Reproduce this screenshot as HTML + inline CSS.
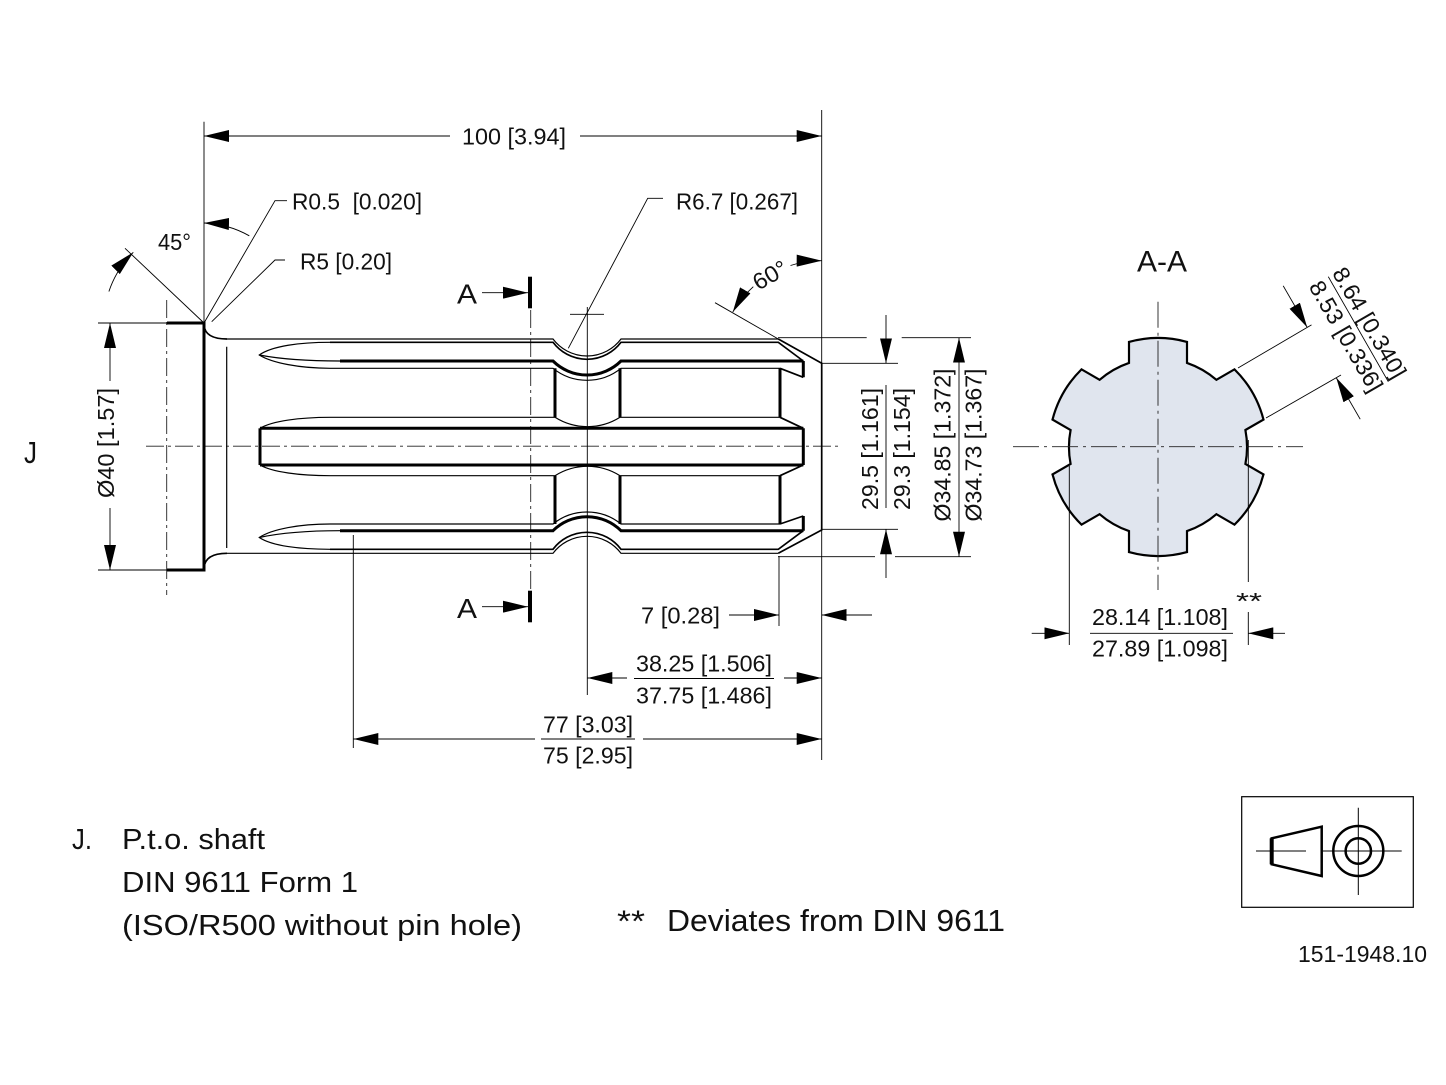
<!DOCTYPE html>
<html>
<head>
<meta charset="utf-8">
<style>
html,body{margin:0;padding:0;background:#fff;overflow:hidden;}
svg{display:block;}
text{font-family:"Liberation Sans",Arial,sans-serif;fill:#111;}
.d{font-size:23px;}
</style>
</head>
<body>
<svg width="1446" height="1085" viewBox="0 0 1446 1085" xmlns="http://www.w3.org/2000/svg">
<defs>
<marker id="a" viewBox="0 0 25 12" refX="25" refY="6" markerWidth="25" markerHeight="12" markerUnits="userSpaceOnUse" orient="auto">
<path d="M0,0 L25,6 L0,12 z" fill="#000"/>
</marker>
</defs>
<rect width="1446" height="1085" fill="#fff"/>

<!-- center lines -->
<g stroke="#222" stroke-width="0.9" fill="none" stroke-dasharray="18 4 3 4">
<path d="M146,446.2 H842"/>
<path d="M166.7,300 V595"/>
<path d="M530.7,310 V590"/>
</g>

<!-- shaft: thick -->
<g stroke="#000" fill="none" stroke-width="3">
<path d="M167,323 H204 V570 H167"/>
<path d="M555,368.3 V417.3 M620,368.3 V417.3 M555,475.7 V524 M620,475.7 V524"/>
<path d="M780,368.3 V417.3 M780,475.7 V524"/>
<path d="M260,428.3 V465"/>
<path d="M803.3,361 V377.3 M803.3,428.3 V465 M803.3,516 V530.7"/>
<path d="M340,361 H553 A48.3,48.3 0 0 0 621,361 H803.3"/>
<path d="M260,428.3 H803.3 M260,465 H803.3"/>
<path d="M340,530.7 H553 A48.3,48.3 0 0 1 621,530.7 H803.3"/>
</g>
<!-- shaft: medium -->
<g stroke="#000" fill="none" stroke-width="1.7">
<path d="M330,342.3 H553 A42.5,42.5 0 0 0 621,342.3 H778.3 L803.3,361"/>
<path d="M330,549.3 H553 A42.5,42.5 0 0 1 621,549.3 H778.3 L803.3,530.7"/>
<path d="M778.3,339 L821.7,363.3 V530 L778.3,553.3"/>
<path d="M803.3,377.3 L780,368.3 M780,417.3 L803.3,428.3 M803.3,465 L780,475.7 M780,524 L803.3,516"/>
<path d="M204,325 Q205,339 227,339 M204,568 Q205,553.3 227,553.3"/>
</g>
<!-- shaft: thin -->
<g stroke="#000" fill="none" stroke-width="1.2">
<path d="M227,339 H553 A42.5,42.5 0 0 0 621,339 H778.3"/>
<path d="M227,553.3 H553 A42.5,42.5 0 0 1 621,553.3 H778.3"/>
<path d="M330,368.3 H553 A54.2,54.2 0 0 0 621,368.3 H780"/>
<path d="M330,524 H553 A54.2,54.2 0 0 1 621,524 H780"/>
<path d="M330,417.3 H555 A60.9,60.9 0 0 0 620,417.3 H780"/>
<path d="M330,475.7 H555 A60.9,60.9 0 0 1 620,475.7 H780"/>
<path d="M226.7,346.7 V548"/>
<path d="M330,342.3 C300,342.3 272,346 259.3,355 C272,363 300,368.3 330,368.3"/>
<path d="M259.3,355 C280,359 310,361 340,361"/>
<path d="M330,417.3 C300,417.3 272,421 260,428.3"/>
<path d="M260,465 C272,472 300,475.7 330,475.7"/>
<path d="M330,524 C300,524 272,529 259.3,537.5 C272,546 300,549.3 330,549.3"/>
<path d="M259.3,537.5 C280,533 310,530.7 340,530.7"/>
</g>

<!-- extension / leader lines -->
<g stroke="#000" fill="none" stroke-width="0.9">
<path d="M204,121.7 V323"/>
<path d="M821.7,110 V760"/>
<path d="M125,248.3 L204,323"/>
<path d="M98,323 H167 M98,570 H167"/>
<path d="M353.3,535 V748"/>
<path d="M779,556 V626"/>
<path d="M587.3,307 V695"/>
<path d="M570,314.3 H604"/>
<path d="M778,337.7 H866.7 M901.7,337.7 H971"/>
<path d="M821.7,363.3 H898 M821.7,529.3 H898"/>
<path d="M778,556.7 H875 M895,556.7 H971"/>
<path d="M204,323 L275,200.7 H287"/>
<path d="M211.7,321.7 L275,260 H285"/>
<path d="M568.3,348.3 L647.7,198.3 H663"/>
<path d="M778.3,339 L715,302.7"/>
<!-- fraction lines -->
<path d="M886,385 V508"/>
<path d="M634,678.5 H774"/>
<path d="M541,739 H635"/>
<path d="M1090,633.3 H1233"/>
<path d="M1328.3,276.7 L1388.3,381.7"/>
</g>

<!-- dimension lines with arrows -->
<g stroke="#000" fill="none" stroke-width="0.9" marker-end="url(#a)">
<path d="M450,136 H204"/>
<path d="M580,136 H821.7"/>
<path d="M110,381 V323"/>
<path d="M110,508 V570"/>
<path d="M108.9,291.5 A100,100 0 0 1 133.3,252.3"/>
<path d="M249.3,235.8 A100,100 0 0 0 204,223"/>
<path d="M790.5,265.5 A102.6,102.6 0 0 1 821.7,260.7"/>
<path d="M753.3,286.7 A102.6,102.6 0 0 0 732.8,312"/>
<path d="M886,315 V363.3"/>
<path d="M886,578 V529.3"/>
<path d="M959,447 V337.7"/>
<path d="M959,447 V556.7"/>
<path d="M729,615 H779"/>
<path d="M872,615 H821.7"/>
<path d="M627,678 H587.3"/>
<path d="M784,678 H821.7"/>
<path d="M535,739 H353.3"/>
<path d="M643,739 H821.7"/>
<path d="M1031.7,633.3 H1069.3"/>
<path d="M1285,633.3 H1248.3"/>
<path d="M1283.2,285.8 L1307.2,327.35"/>
<path d="M1360.2,419.2 L1336.2,377.6"/>
<path d="M482,292.7 H528"/>
<path d="M482,606.7 H528"/>
</g>

<!-- section bars -->
<g stroke="#000" stroke-width="4">
<path d="M530,276.7 V308.3"/>
<path d="M530,590.7 V622.3"/>
</g>

<!-- A-A section -->
<path d="M1245.4,430.0 L1263.5,419.6 A109,109 0 0 0 1234.5,369.35 L1216.4,379.8 A89,89 0 0 0 1187.0,362.9 L1187.0,341.9 A109,109 0 0 0 1129.0,341.9 L1129.0,362.9 A89,89 0 0 0 1099.6,379.8 L1081.5,369.35 A109,109 0 0 0 1052.5,419.6 L1070.6,430.0 A89,89 0 0 0 1070.6,464.0 L1052.5,474.4 A109,109 0 0 0 1081.5,524.65 L1099.6,514.2 A89,89 0 0 0 1129.0,531.1 L1129.0,552.1 A109,109 0 0 0 1187.0,552.1 L1187.0,531.1 A89,89 0 0 0 1216.4,514.2 L1234.5,524.65 A109,109 0 0 0 1263.5,474.4 L1245.4,464.0 A89,89 0 0 0 1245.4,430.0 Z" fill="#e0e5ee" stroke="#000" stroke-width="2.2"/>
<g stroke="#222" stroke-width="0.9" fill="none" stroke-dasharray="26 5 3 5">
<path d="M1013,446.7 H1303"/>
<path d="M1158,301.7 V590"/>
</g>
<g stroke="#000" stroke-width="0.9" fill="none">
<path d="M1069.3,466 V645"/>
<path d="M1248.3,440 V582 M1248.3,612 V645"/>
<path d="M1238,368 L1311.5,324.9"/>
<path d="M1266,418 L1341,375"/>
</g>

<!-- symbol box -->
<rect x="1241.7" y="796.7" width="171.6" height="110.6" fill="none" stroke="#000" stroke-width="1.2"/>
<polygon points="1271.7,838.3 1321.7,826.7 1321.7,876 1271.7,864.3" fill="none" stroke="#000" stroke-width="2.5"/>
<path d="M1271.7,838.3 V864.3" stroke="#000" stroke-width="4"/>
<g stroke="#000" stroke-width="1" fill="none">
<path d="M1256,851 H1306 M1322.7,851 H1401.7 M1358.3,807.7 V895"/>
</g>
<circle cx="1358.3" cy="851" r="25" fill="none" stroke="#000" stroke-width="2.5"/>
<circle cx="1358.3" cy="851" r="12.7" fill="none" stroke="#000" stroke-width="2.5"/>

<!-- texts -->
<text class="d" x="462" y="144.3" textLength="104" lengthAdjust="spacingAndGlyphs">100 [3.94]</text>
<text class="d" x="292" y="209.5" textLength="130" lengthAdjust="spacingAndGlyphs" style="white-space:pre">R0.5  [0.020]</text>
<text class="d" x="300" y="269.3" textLength="92" lengthAdjust="spacingAndGlyphs">R5 [0.20]</text>
<text class="d" x="158" y="250" textLength="33" lengthAdjust="spacingAndGlyphs">45°</text>
<text class="d" x="676" y="209.3" textLength="122" lengthAdjust="spacingAndGlyphs">R6.7 [0.267]</text>
<text style="font-size:28px" x="457" y="303.5" textLength="20" lengthAdjust="spacingAndGlyphs">A</text>
<text style="font-size:28px" x="457" y="618" textLength="20" lengthAdjust="spacingAndGlyphs">A</text>
<text style="font-size:31px" x="24" y="463" textLength="13" lengthAdjust="spacingAndGlyphs">J</text>

<text class="d" transform="translate(770,275) rotate(-30)" y="8" text-anchor="middle" textLength="36" lengthAdjust="spacingAndGlyphs">60°</text>
<text class="d" transform="translate(106,443) rotate(-90)" y="8" text-anchor="middle" textLength="110" lengthAdjust="spacingAndGlyphs">Ø40 [1.57]</text>
<text class="d" transform="translate(870,449) rotate(-90)" y="8" text-anchor="middle" textLength="122" lengthAdjust="spacingAndGlyphs">29.5 [1.161]</text>
<text class="d" transform="translate(902,449) rotate(-90)" y="8" text-anchor="middle" textLength="122" lengthAdjust="spacingAndGlyphs">29.3 [1.154]</text>
<text class="d" transform="translate(942.7,445) rotate(-90)" y="8" text-anchor="middle" textLength="153" lengthAdjust="spacingAndGlyphs">Ø34.85 [1.372]</text>
<text class="d" transform="translate(973.3,445) rotate(-90)" y="8" text-anchor="middle" textLength="153" lengthAdjust="spacingAndGlyphs">Ø34.73 [1.367]</text>

<text class="d" x="641" y="623.5" textLength="79" lengthAdjust="spacingAndGlyphs">7 [0.28]</text>
<text class="d" x="636" y="671.7" textLength="136" lengthAdjust="spacingAndGlyphs">38.25 [1.506]</text>
<text class="d" x="636" y="703.3" textLength="136" lengthAdjust="spacingAndGlyphs">37.75 [1.486]</text>
<text class="d" x="543" y="732.7" textLength="90" lengthAdjust="spacingAndGlyphs">77 [3.03]</text>
<text class="d" x="543" y="763.3" textLength="90" lengthAdjust="spacingAndGlyphs">75 [2.95]</text>

<text style="font-size:30px" x="1137" y="271.7" textLength="50" lengthAdjust="spacingAndGlyphs">A-A</text>
<text class="d" x="1092" y="625" textLength="136" lengthAdjust="spacingAndGlyphs">28.14 [1.108]</text>
<text class="d" x="1092" y="656.7" textLength="136" lengthAdjust="spacingAndGlyphs">27.89 [1.098]</text>
<text class="d" x="1236" y="609" textLength="26" lengthAdjust="spacingAndGlyphs">**</text>
<text class="d" transform="translate(1369.6,322.7) rotate(60)" y="8" text-anchor="middle" textLength="124" lengthAdjust="spacingAndGlyphs">8.64 [0.340]</text>
<text class="d" transform="translate(1346.2,336.2) rotate(60)" y="8" text-anchor="middle" textLength="124" lengthAdjust="spacingAndGlyphs">8.53 [0.336]</text>

<text style="font-size:29px" x="72" y="849" textLength="20" lengthAdjust="spacingAndGlyphs">J.</text>
<text style="font-size:29px" x="122" y="849" textLength="143" lengthAdjust="spacingAndGlyphs">P.t.o. shaft</text>
<text style="font-size:29px" x="122" y="892" textLength="236" lengthAdjust="spacingAndGlyphs">DIN 9611 Form 1</text>
<text style="font-size:29px" x="122" y="935" textLength="400" lengthAdjust="spacingAndGlyphs">(ISO/R500 without pin hole)</text>
<text style="font-size:31px" x="617" y="931.5" textLength="28" lengthAdjust="spacingAndGlyphs">**</text>
<text style="font-size:31px" x="667" y="931" textLength="338" lengthAdjust="spacingAndGlyphs">Deviates from DIN 9611</text>
<text class="d" x="1298" y="962" textLength="129" lengthAdjust="spacingAndGlyphs">151-1948.10</text>
</svg>
</body>
</html>
